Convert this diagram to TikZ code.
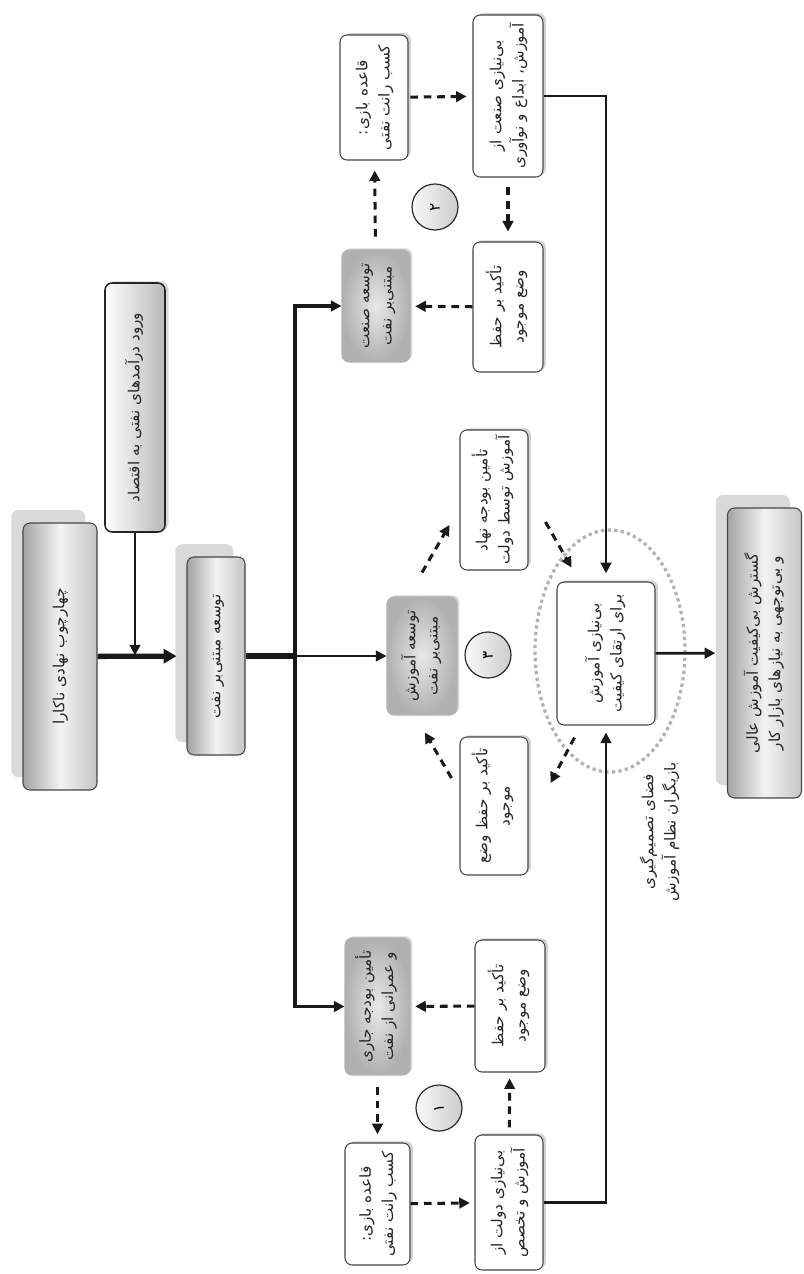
\documentclass[tikz,border=0pt]{standalone}
\usepackage{fontspec}
\usepackage{graphicx}
\usepackage{tikz}
\usetikzlibrary{arrows.meta, calc, shadows}
\TeXXeTstate=1
\newfontfamily\farsi[Script=Arabic]{DejaVu Sans}
\newcommand{\fsize}{\fontsize{13}{15.6}\selectfont}
\newcommand{\fa}[1]{\beginR#1\endR}
\newcommand{\vtxt}[1]{\rotatebox{90}{\begin{tabular}{@{}c@{}}#1\end{tabular}}}
\renewcommand{\arraystretch}{1.22}
\tikzset{
  sz/.style 2 args={minimum width=#1*0.03cm, minimum height=#2*0.03cm},
  base/.style={rectangle, rounded corners=6pt, inner sep=0pt, line width=0.9pt,
    font=\farsi\fsize, text=black!85},
  wbox/.style={base, draw=gray!55!black, fill=white,
    drop shadow={shadow xshift=2.5pt, shadow yshift=1.5pt, fill=gray!35, opacity=1}},
  gbox/.style={base, draw=gray!60, inner color=gray!18, outer color=gray!62,
    drop shadow={shadow xshift=2pt, shadow yshift=1.5pt, fill=gray!30, opacity=1}},
  bigbox/.style={base, draw=gray!55!black, left color=gray!72, right color=gray!45,
    middle color=gray!10,
    drop shadow={shadow xshift=-10pt, shadow yshift=11pt, fill=gray!30, opacity=1}},
  inbox/.style={base, draw=gray!30!black, line width=1.3pt, left color=white,
    right color=gray!55,
    drop shadow={shadow xshift=3pt, shadow yshift=1.5pt, fill=gray!30, opacity=1}},
  numcirc/.style={circle, inner sep=0pt, minimum size=46*0.03cm, draw=gray!30!black,
    line width=1pt, left color=gray!5, right color=gray!40, font=\farsi\fsize},
  arrow/.style={-{Triangle[length=9pt, width=9pt]}, line width=2.3pt, color=black!90},
  dasharrow/.style={arrow, line width=2.6pt, dash pattern=on 6.5pt off 5pt},
  thickline/.style={line width=4.5pt, color=black!90},
  thickarrow/.style={thickline, -{Triangle[length=11pt, width=12pt]}},
  dotring/.style={gray!60, line width=2.8pt, dash pattern=on 2.8pt off 2.8pt}
}

\begin{document}
\begin{tikzpicture}[x=0.03cm, y=-0.03cm]
  \useasboundingbox (0,0) rectangle (803,1274);

  % ── entry chain ──────────────────────────────────────────────
  \node[bigbox, sz={74}{267}] (frame) at (60,656.5) {\vtxt{\fa{چهارچوب نهادی ناکارا}}};
  \node[inbox, sz={60}{249}] (revenue) at (135,407.5) {\vtxt{\fa{ورود درآمدهای نفتی به اقتصاد}}};
  \node[bigbox, sz={58}{198}] (oilDev) at (216,656) {\vtxt{\fa{توسعه مبتنی‌بر نفت}}};
  \coordinate (bus) at (295,656);

  % ── (2) industry loop ────────────────────────────────────────
  \node[gbox, sz={68}{112}] (indDev) at (376,306) {\vtxt{\fa{توسعه صنعت}\\\fa{مبتنی‌بر نفت}}};
  \node[wbox, sz={68}{125}] (rule1) at (374,97.5) {\vtxt{\fa{قاعده بازی:}\\\fa{کسب رانت نفتی}}};
  \node[wbox, sz={70}{162}] (indNeed) at (508,96) {\vtxt{\fa{بی‌نیازی صنعت از}\\\fa{آموزش، ابداع و نوآوری}}};
  \node[wbox, sz={70}{130}] (indKeep) at (508,307) {\vtxt{\fa{تأکید بر حفظ}\\\fa{وضع موجود}}};
  \node[numcirc] (c2) at (435,207) {\rotatebox{90}{\fa{۲}}};

  % ── (3) education loop ───────────────────────────────────────
  \node[gbox, sz={70}{118}] (eduDev) at (422,656) {\vtxt{\fa{توسعه آموزش}\\\fa{مبتنی‌بر نفت}}};
  \node[numcirc] (c3) at (488,655) {\rotatebox{90}{\fa{۳}}};
  \node[wbox, sz={68}{140}] (eduFund) at (494,500) {\vtxt{\fa{تأمین بودجه نهاد}\\\fa{آموزش توسط دولت}}};
  \node[wbox, sz={68}{138}] (eduKeep) at (494,806) {\vtxt{\fa{تأکید بر حفظ وضع}\\\fa{موجود}}};
  \node[wbox, sz={98}{143}] (eduNeed) at (606,653.5) {\vtxt{\fa{بی‌نیازی آموزش}\\\fa{برای ارتقای کیفیت}}};
  \draw[dotring] (610,651) ellipse [x radius=75, y radius=121];
  \node[font=\farsi\fsize, text=black!85, inner sep=0pt] (spaceLbl) at (660,832)
    {\vtxt{\fa{فضای تصمیم‌گیری}\\\fa{بازیگران نظام آموزش}}};
  \node[bigbox, sz={74}{290}] (result) at (764.5,653)
    {\vtxt{\fa{گسترش بی‌کیفیت آموزش عالی}\\\fa{و بی‌توجهی به نیازهای بازار کار}}};

  % ── (1) government loop ──────────────────────────────────────
  \node[gbox, sz={65}{137}] (budDev) at (377.5,1006.5) {\vtxt{\fa{تأمین بودجه جاری}\\\fa{و عمرانی از نفت}}};
  \node[wbox, sz={65}{122}] (rule2) at (377.5,1204) {\vtxt{\fa{قاعده بازی:}\\\fa{کسب رانت نفتی}}};
  \node[wbox, sz={68}{135}] (govNeed) at (509,1202.5) {\vtxt{\fa{بی‌نیازی دولت از}\\\fa{آموزش و تخصص}}};
  \node[wbox, sz={70}{132}] (budKeep) at (510,1006) {\vtxt{\fa{تأکید بر حفظ}\\\fa{وضع موجود}}};
  \node[numcirc] (c1) at (439,1108) {\rotatebox{90}{\fa{۱}}};

  % ── solid connectors ─────────────────────────────────────────
  \draw[thickarrow, shorten >=8.5pt] (frame) -- (oilDev);
  \draw[arrow, shorten >=1pt] (revenue) -- (revenue |- frame);
  \draw[thickline] (oilDev) -- (bus);
  \draw[arrow, line width=2pt] (bus) -- (eduDev);
  \draw[arrow, line width=2.6pt] (bus) |- (indDev);
  \draw[arrow, line width=2.6pt] (bus) |- (budDev);
  \draw[arrow, shorten >=7pt] (indNeed) -| (eduNeed);
  \draw[arrow, shorten >=6pt] (govNeed) -| (eduNeed);
  \draw[arrow, shorten >=10pt] (eduNeed) -- (result);

  % ── dashed loops ─────────────────────────────────────────────
  \draw[dasharrow, shorten <=11pt, shorten >=8.5pt] (indDev) -- (rule1);
  \draw[dasharrow, shorten <=1.5pt, shorten >=5pt] (rule1) -- (indNeed);
  \draw[dasharrow, shorten <=8.5pt, shorten >=8.5pt] (indNeed) -- (indKeep);
  \draw[dasharrow, shorten >=4pt] (indKeep) -- (indDev);

  \draw[dasharrow] ($(eduDev.north)+(0,-24)$) -- ($(eduFund.west)+(-10,25)$);
  \draw[dasharrow] ($(eduFund.east)+(17,22)$) -- ($(eduNeed.north west)+(15,-14)$);
  \draw[dasharrow] ($(eduNeed.south west)+(18,12)$) -- ($(eduKeep.east)+(22,-23)$);
  \draw[dasharrow] ($(eduKeep.west)+(-8,-28)$) -- ($(eduDev.south)+(3,17)$);

  \draw[dasharrow, shorten <=10pt, shorten >=7pt] (budDev) -- (rule2);
  \draw[dasharrow, shorten >=4pt] (rule2) -- (govNeed);
  \draw[dasharrow, shorten <=6pt, shorten >=5pt] (govNeed) -- (budKeep);
  \draw[dasharrow, shorten >=4pt] (budKeep) -- (budDev);
\end{tikzpicture}
\end{document}
